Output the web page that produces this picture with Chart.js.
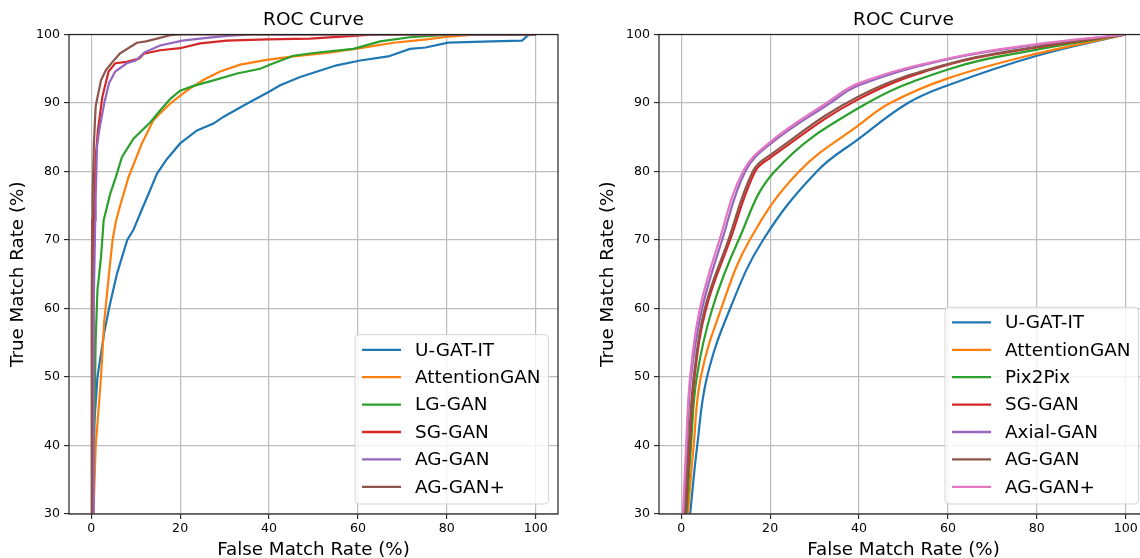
<!DOCTYPE html>
<html>
<head>
<meta charset="utf-8">
<script src="https://cdn.jsdelivr.net/npm/chart.js@4.4.0/dist/chart.umd.min.js"></script>
<style>
  html, body { margin: 0; padding: 0; background: #fff; overflow: hidden; width: 1140px; height: 558px; }
  .panel { position: absolute; top: 0; width: 570px; height: 561px; }
  #left { left: 0; }
  #right { left: 590px; }
</style>
</head>
<body>
<div class="panel" id="left"><canvas id="rocLeft"></canvas></div>
<div class="panel" id="right"><canvas id="rocRight"></canvas></div>
<script>
// tick values
const fmrTicks = [0, 20, 40, 60, 80, 100];
const tmrTicks = [30, 40, 50, 60, 70, 80, 90, 100];

// left panel: [false match rate, true match rate]
const leftLabels = ['U-GAT-IT', 'AttentionGAN', 'LG-GAN', 'SG-GAN', 'AG-GAN', 'AG-GAN+'];
const leftUgat = [[0.3,30],[0.7,43.3],[1.4,50],[2.9,56.4],[4.0,60],[5.8,65.1],[8.1,70],[9.5,71.5],[10.4,72.9],[11.3,74.3],[13.0,76.9],[14.8,79.7],[17.0,81.8],[20.0,84.1],[23.8,86.0],[27.5,87.0],[29.8,88.0],[35.0,89.9],[39.9,91.6],[42.5,92.6],[47.0,93.8],[55.2,95.5],[60.5,96.2],[66.8,96.8],[71.7,97.9],[75.2,98.1],[80.3,98.8],[90.0,99.0],[96.9,99.1],[98.3,99.9],[100,100]];
const leftAttn = [[0.5,30],[1.0,39.8],[2.2,50],[2.9,57.9],[4.0,65.1],[4.8,70],[5.6,72.9],[6.5,75],[8.4,79.2],[11.4,84.1],[14.0,87.5],[15.5,88.5],[18.1,90.1],[21.5,91.8],[25.3,93.4],[29.0,94.6],[33.5,95.6],[39.5,96.3],[45.5,96.8],[53.0,97.3],[60.5,98.0],[68.0,98.8],[75.5,99.3],[79.2,99.6],[86.7,100],[100,100]];
const leftLg = [[0.3,30],[0.7,43.3],[1.0,55.4],[1.4,62.7],[2.2,67.5],[2.8,72.9],[4.3,76.8],[5.5,79.1],[6.9,82.1],[9.5,84.8],[13.3,87.2],[15.5,88.9],[17.8,90.6],[20.0,91.8],[23.0,92.5],[27.5,93.3],[32.8,94.3],[38.0,95.0],[41.0,95.8],[45.5,96.9],[50.0,97.3],[59.0,97.9],[65.0,99.0],[71.7,99.6],[79.0,99.9],[85.0,100],[100,100]];
const leftSg = [[0.2,30],[0.4,50],[0.5,65],[0.7,76],[1.0,82],[1.5,86],[2.5,90.9],[3.9,94.6],[5.4,95.8],[8.0,96.0],[10.8,96.5],[11.8,97.2],[15.5,97.7],[20.0,98.0],[24.5,98.7],[30.5,99.1],[39.5,99.3],[49.2,99.4],[59.0,99.8],[64.0,100],[100,100]];
const leftAg = [[0.4,30],[0.5,50],[0.6,60],[0.9,72.9],[1.0,76.1],[1.3,83.6],[1.8,86],[2.9,89.9],[4.0,92.9],[5.4,94.6],[8.0,95.8],[10.0,96.2],[12.0,97.4],[15.5,98.4],[20.5,99.1],[26.0,99.5],[30.5,99.8],[36.0,100],[100,100]];
const leftAgPlus = [[0.0,30],[0.1,60],[0.2,73],[0.3,76.1],[0.6,84],[1.0,89.5],[1.3,90.5],[2.2,93.3],[3.3,94.8],[4.8,96.0],[6.4,97.2],[9.3,98.4],[10.3,98.8],[12.3,99.0],[14.8,99.4],[17.8,99.9],[20.0,100],[100,100]];

// right panel
const rightLabels = ['U-GAT-IT', 'AttentionGAN', 'Pix2Pix', 'SG-GAN', 'Axial-GAN', 'AG-GAN', 'AG-GAN+'];
const rightUgat = [[2.0,30],[3.6,40],[5.8,50],[11.0,60],[18.4,70],[30.5,80],[40,84.8],[51,90],[60,92.6],[80,96.9],[100,100]];
const rightAttn = [[1.5,30],[2.8,40],[4.4,50],[9.0,60],[15.4,70],[26.5,80],[40,86.8],[47,90],[60,93.6],[80,97.2],[100,100]];
const rightPix = [[1.2,30],[2.2,40],[3.5,50],[7.0,60],[12.9,70],[21.0,80],[40,89.3],[60,94.9],[80,97.8],[100,100]];
const rightSg = [[1.0,30],[1.9,40],[3.0,50],[5.6,60],[11.0,70],[16.6,80],[20,82.0],[40,90.6],[60,95.6],[80,98.1],[100,100]];
const rightAxial = [[0.6,30],[1.3,40],[2.2,50],[4.7,60],[9.2,70],[14.4,80],[20,84.0],[33.5,90],[40,92.6],[60,96.4],[80,98.5],[100,100]];
const rightAg = [[0.9,30],[1.7,40],[2.8,50],[5.3,60],[10.6,70],[16.1,80],[20,82.4],[40,91.0],[60,95.7],[80,98.2],[100,100]];
const rightAgPlus = [[0.4,30],[1.1,40],[2.0,50],[4.2,60],[8.6,70],[13.9,80],[20,84.3],[32.7,90],[40,92.9],[60,96.5],[80,98.6],[100,100]];

const palette = ['#1f77b4', '#ff7f0e', '#2ca02c', '#d62728', '#9467bd', '#8c564b', '#e377c2'];
const FONT = "'DejaVu Sans', sans-serif";

const toXY = pts => pts.map(([x, y]) => ({ x, y }));

function makeSets(labels, series, tension) {
    return series.map((pts, i) => ({
        label: labels[i],
        data: toXY(pts),
        borderColor: palette[i],
        backgroundColor: palette[i],
        borderWidth: 2.2,
        pointRadius: 0,
        fill: false,
        tension: tension,
        order: series.length - 1 - i
    }));
}

// title over the plot area, box of spines, legend in lower right
const framePlugin = {
    id: 'frame',
    afterDatasetsDraw(chart) {
        const { ctx, chartArea: a } = chart;
        ctx.save();
        ctx.strokeStyle = '#222';
        ctx.lineWidth = 1.2;
        ctx.strokeRect(a.left, a.top, a.right - a.left, a.bottom - a.top);

        ctx.fillStyle = '#000';
        ctx.font = `18.5px ${FONT}`;
        ctx.textAlign = 'center';
        ctx.textBaseline = 'middle';
        ctx.fillText('ROC Curve', (a.left + a.right) / 2, 20.5);

        const sets = chart.data.datasets;
        ctx.font = `18.4px ${FONT}`;
        ctx.textAlign = 'left';
        const textW = Math.max(...sets.map(d => ctx.measureText(d.label).width));
        const rowH = 27.4;
        const w = 60 + textW + 8;
        const h = sets.length * rowH + 5;
        const x = a.right - 9.5 - w;
        const y = a.bottom - 10 - h;
        ctx.beginPath();
        ctx.roundRect(x, y, w, h, 4);
        ctx.fillStyle = 'rgba(255,255,255,0.8)';
        ctx.fill();
        ctx.strokeStyle = '#d4d4d4';
        ctx.lineWidth = 1;
        ctx.stroke();
        sets.forEach((d, i) => {
            const cy = y + 15.2 + i * rowH;
            ctx.strokeStyle = d.borderColor;
            ctx.lineWidth = 2.3;
            ctx.beginPath();
            ctx.moveTo(x + 7, cy);
            ctx.lineTo(x + 46, cy);
            ctx.stroke();
            ctx.fillStyle = '#000';
            ctx.fillText(d.label, x + 60, cy + 1);
        });
        ctx.restore();
    }
};

function rocOptions() {
    const grid = { color: '#bdbdbd', lineWidth: 1.2, tickColor: '#222', tickLength: 5, tickWidth: 1.1 };
    return {
        responsive: true,
        maintainAspectRatio: false,
        animation: false,
        layout: { padding: { left: 0, right: 12, top: 34.5, bottom: 0 } },
        plugins: { legend: { display: false }, tooltip: { enabled: false }, title: { display: false } },
        scales: {
            x: {
                type: 'linear', min: -5, max: 105,
                afterBuildTicks: s => { s.ticks = fmrTicks.map(v => ({ value: v })); },
                afterFit: s => { s.height = 47; },
                grid: grid,
                border: { display: false },
                ticks: { color: '#000', font: { family: FONT, size: 12.6 }, padding: 2, maxRotation: 0, autoSkip: false },
                title: { display: true, text: 'False Match Rate (%)', color: '#000', font: { family: FONT, size: 18.3 }, padding: { top: 0, bottom: 0 } }
            },
            y: {
                type: 'linear', min: 30, max: 100,
                afterBuildTicks: s => { s.ticks = tmrTicks.map(v => ({ value: v })); },
                afterFit: s => { s.width = 69; },
                grid: grid,
                border: { display: false },
                ticks: { color: '#000', font: { family: FONT, size: 12.6 }, padding: 4, autoSkip: false },
                title: { display: true, text: 'True Match Rate (%)', color: '#000', font: { family: FONT, size: 18.3 }, padding: { top: 7, bottom: 0 } }
            }
        }
    };
}

const rocLeft = new Chart(document.getElementById('rocLeft'), {
    type: 'line',
    data: { datasets: makeSets(leftLabels, [leftUgat, leftAttn, leftLg, leftSg, leftAg, leftAgPlus], 0) },
    options: rocOptions(),
    plugins: [framePlugin]
});

const rocRight = new Chart(document.getElementById('rocRight'), {
    type: 'line',
    data: { datasets: makeSets(rightLabels, [rightUgat, rightAttn, rightPix, rightSg, rightAxial, rightAg, rightAgPlus], 0.4) },
    options: rocOptions(),
    plugins: [framePlugin]
});
</script>
</body>
</html>
